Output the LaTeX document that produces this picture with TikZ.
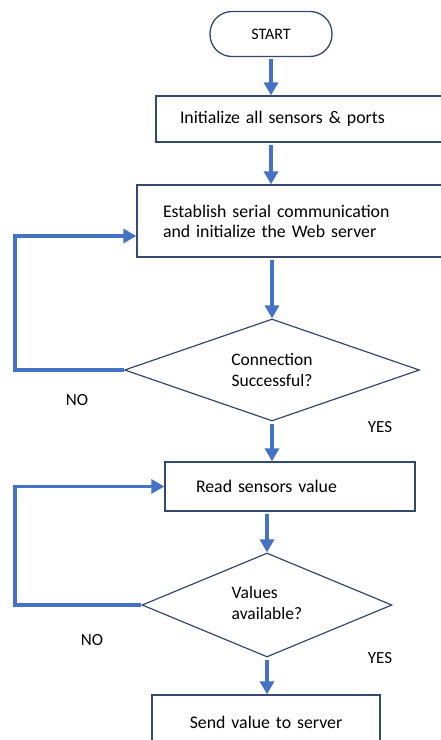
\documentclass[tikz,border=0pt]{standalone}
\usepackage{fontspec}
\setmainfont{Carlito}
\usepackage{xcolor}
\usepackage{tikz}
\usetikzlibrary{shapes.geometric,arrows.meta}
\definecolor{boxline}{HTML}{34496B}
\definecolor{flowblue}{HTML}{4472C4}
\tikzstyle{terminal}=[fill=white, draw=boxline, line width=1.3pt, shape=rectangle, rounded corners=22pt, minimum width=122pt, minimum height=45pt, font=\fontsize{16}{19}\selectfont]
\tikzstyle{process}=[fill=white, draw=boxline, line width=1.3pt, shape=rectangle, align=left, font=\fontsize{17.8}{20}\selectfont]
\tikzstyle{decision}=[fill=white, draw=boxline, line width=1.2pt, shape=diamond, inner sep=0pt, font=\fontsize{17.5}{21}\selectfont]
\tikzstyle{tag}=[font=\fontsize{17}{20}\selectfont]
\tikzstyle{flow edge}=[-{Triangle[length=13pt,width=14pt]}, draw=flowblue, line width=3.5pt, shorten <=2pt]
\tikzstyle{loop edge}=[-{Triangle[length=13pt,width=14pt]}, draw=flowblue, line width=3.5pt]
\pgfdeclarelayer{nodelayer}
\pgfdeclarelayer{edgelayer}
\pgfsetlayers{nodelayer,edgelayer,main}

\begin{document}
\begin{tikzpicture}[x=1pt, y=-1pt]
	\useasboundingbox (0, 0) rectangle (440, 740);
	\begin{pgfonlayer}{nodelayer}
		\node [style=terminal] (0) at (271, 34) {START};
		\node [style=process, text width=266pt, inner xsep=24pt, minimum height=46pt] (1) at (313, 119) {Initialize all sensors \& ports};
		\node [style=process, text width=281pt, inner xsep=26pt, minimum height=72pt] (2) at (303.5, 221) {Establish serial communication\\and initialize the Web server};
		\node [style=decision, align=center, shape aspect=2.9, minimum width=295pt, minimum height=102pt] (3) at (272, 370) {Connection\\Successful?};
		\node [style=process, text width=188pt, inner xsep=31pt, minimum height=49pt] (4) at (290, 486.5) {Read sensors value};
		\node [style=decision, align=left, shape aspect=2.4, minimum width=250pt, minimum height=104pt] (5) at (267, 605) {\raisebox{5pt}{\begin{tabular}{@{}l@{}}Values\\available?\end{tabular}}};
		\node [style=process, align=center, text width=208pt, inner xsep=10pt, minimum height=55pt] (6) at (266, 722.5) {Send value to server};
		\node [style=tag] (7) at (77, 400) {NO};
		\node [style=tag] (8) at (380, 427) {YES};
		\node [style=tag] (9) at (92, 640) {NO};
		\node [style=tag] (10) at (380, 658) {YES};
		\coordinate (11) at (15, 370);
		\coordinate (12) at (15, 605);
	\end{pgfonlayer}
	\begin{pgfonlayer}{edgelayer}
		\draw [style=flow edge] (0) to (0 |- 1.north);
		\draw [style=flow edge] (1.south -| 0) to (0 |- 2.north);
		\draw [style=flow edge] (2.south -| 3) to (3.north);
		\draw [style=flow edge] (3.south) to (3.south |- 4.north);
		\draw [style=flow edge] (4.south -| 5) to (5.north);
		\draw [style=flow edge] (5.south) to (5.south |- 6.north);
		\draw [style=loop edge] (3.west) -- (11) |- ([yshift=-15pt]2.west);
		\draw [style=loop edge] (5.west) -- (12) |- (4.west);
	\end{pgfonlayer}
\end{tikzpicture}
\end{document}
